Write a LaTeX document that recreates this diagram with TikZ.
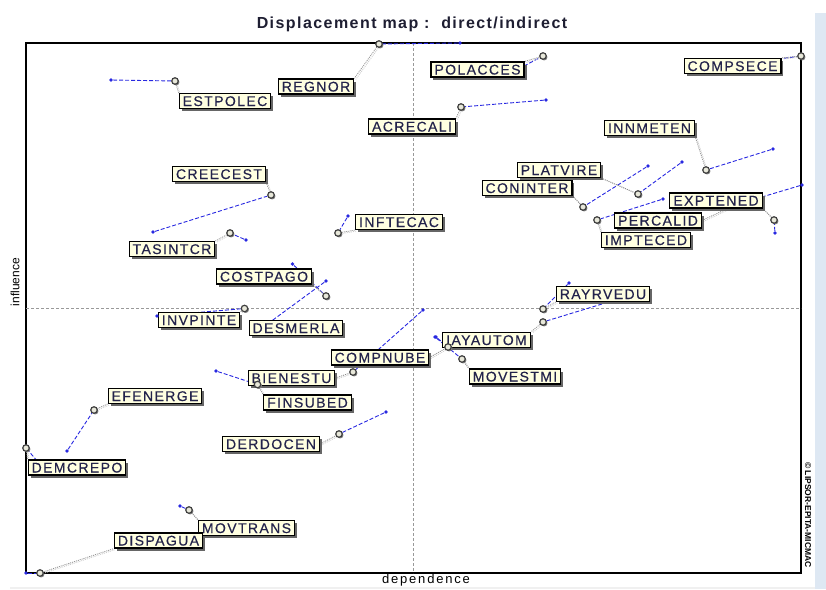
\documentclass[tikz,border=0pt]{standalone}
\usepackage{fontspec}
\setmainfont{Liberation Sans}
\newfontfamily\lblfont[LetterSpace=10,FakeBold=0.4]{Liberation Sans}
\newfontfamily\ttlfont[LetterSpace=9]{Liberation Sans}
\newfontfamily\axfont[LetterSpace=14]{Liberation Sans}
\usetikzlibrary{shadows}
\usetikzlibrary{backgrounds}

\definecolor{lblfill}{RGB}{255,255,225}
\definecolor{lbltext}{RGB}{35,35,75}
\definecolor{dirblue}{RGB}{40,40,225}
\definecolor{indfill}{RGB}{232,232,218}
\definecolor{sidebar}{RGB}{222,232,243}

\tikzset{
  lbl/.style={draw=black, line width=1.1pt, fill=lblfill, text=lbltext,
    font=\lblfont\fontsize{14}{14}\selectfont, inner xsep=3.5pt, inner ysep=2.5pt,
    text height=10pt, text depth=0pt,
    drop shadow={shadow xshift=2.5pt, shadow yshift=-2.5pt, fill=black!60, opacity=1}},
  ind/.style={circle, draw=black!75, line width=1.2pt, fill=indfill, inner sep=0pt,
    minimum size=6.5pt,
    drop shadow={shadow xshift=1.2pt, shadow yshift=-1.2pt, fill=gray, opacity=1}},
  dir/.style={circle, fill=dirblue, inner sep=0pt, minimum size=3.8pt},
  move/.style={draw=dirblue, line width=0.9pt, dash pattern=on 4pt off 2pt},
  leader/.style={draw=gray!90, line width=0.8pt, dash pattern=on 1pt off 1pt,
    preaction={draw=gray!40, line width=0.8pt, dash pattern=on 1pt off 1pt,
      transform canvas={shift={(1.5pt,-1pt)}}}},
  frame/.style={draw=black, line width=1.2pt},
  cross/.style={draw=gray!80, line width=0.7pt, dash pattern=on 3pt off 2pt}
}

\begin{document}
\begin{tikzpicture}[x=1pt, y=-1pt]
    %% define frame
    \def\xmin{26};
    \def\xmax{801};
    \def\ymin{43};
    \def\ymax{573};
    \def\xmid{413};
    \def\ymid{308};

    \useasboundingbox (0,0) rectangle (826,589);
    \fill[sidebar] (815,13) rectangle (826,589);
    \fill[gray!12] (10,587) rectangle (815,589);

    %% titles
    \node[anchor=base, text={rgb,255:red,30;green,30;blue,50},
      font=\ttlfont\bfseries\fontsize{16}{16}\selectfont] (title) at (412,28.5)
      {Displacement map :\ \ direct/indirect};
    \node[rotate=90, font=\fontsize{12}{12}\selectfont] (yname) at (15,282) {influence};
    \node[font=\axfont\fontsize{13}{13}\selectfont] (xname) at (426,580) {dependence};
    \node[rotate=-90, font=\bfseries\fontsize{8.5}{8.5}\selectfont] (copy) at (808,515)
      {\textcopyright\ LIPSOR-EPITA-MICMAC};

    %% labels
    \node[lbl] (estpolec) at (225,101) {ESTPOLEC};
    \node[lbl] (regnor) at (316,86.5) {REGNOR};
    \node[lbl] (polacces) at (477.5,69.5) {POLACCES};
    \node[lbl] (compsece) at (732.5,66) {COMPSECE};
    \node[lbl] (acrecali) at (412,126.5) {ACRECALI};
    \node[lbl] (innmeten) at (649.5,128) {INNMETEN};
    \node[lbl] (platvire) at (559,170) {PLATVIRE};
    \node[lbl] (coninter) at (527,188) {CONINTER};
    \node[lbl] (exptened) at (716,200.5) {EXPTENED};
    \node[lbl] (percalid) at (658,220.5) {PERCALID};
    \node[lbl] (impteced) at (646,240) {IMPTECED};
    \node[lbl] (creecest) at (219,174) {CREECEST};
    \node[lbl] (tasintcr) at (172,249) {TASINTCR};
    \node[lbl] (inftecac) at (399,222) {INFTECAC};
    \node[lbl] (costpago) at (264,276.5) {COSTPAGO};
    \node[lbl] (invpinte) at (199,320) {INVPINTE};
    \node[lbl] (desmerla) at (296,328) {DESMERLA};
    \node[lbl] (compnube) at (380,357.5) {COMPNUBE};
    \node[lbl] (bienestu) at (291.5,378) {BIENESTU};
    \node[lbl] (finsubed) at (307.5,402.5) {FINSUBED};
    \node[lbl] (iayautom) at (486.5,340) {IAYAUTOM};
    \node[lbl] (rayrvedu) at (603,294) {RAYRVEDU};
    \node[lbl] (movestmi) at (515,376.5) {MOVESTMI};
    \node[lbl] (efenerge) at (155,396) {EFENERGE};
    \node[lbl] (demcrepo) at (77,467.5) {DEMCREPO};
    \node[lbl] (derdocen) at (271,444) {DERDOCEN};
    \node[lbl] (movtrans) at (246.5,528) {MOVTRANS};
    \node[lbl] (dispagua) at (158.5,540.5) {DISPAGUA};

    %% direct positions
    \node[dir] (estpolec-d) at (111,80) {};
    \node[dir] (regnor-d) at (460,43) {};
    \coordinate (polacces-d) at (524,66);
    \coordinate (compsece-d) at (772,60);
    \node[dir] (acrecali-d) at (546,100) {};
    \node[dir] (innmeten-d) at (773,149) {};
    \node[dir] (platvire-d) at (682,162) {};
    \node[dir] (coninter-d) at (648,166) {};
    \node[dir] (exptened-d) at (775,233) {};
    \node[dir] (percalid-d) at (802,185) {};
    \node[dir] (impteced-d) at (663,199) {};
    \node[dir] (creecest-d) at (153,232) {};
    \node[dir] (tasintcr-d) at (246,240) {};
    \node[dir] (inftecac-d) at (348,216) {};
    \node[dir] (costpago-d) at (292.5,264) {};
    \node[dir] (invpinte-d) at (157,316) {};
    \node[dir] (desmerla-d) at (326,281) {};
    \node[dir] (compnube-d) at (436,337) {};
    \node[dir] (bienestu-d) at (423,310) {};
    \node[dir] (finsubed-d) at (216,371) {};
    \coordinate (iayautom-d) at (625,297);
    \node[dir] (rayrvedu-d) at (569,283) {};
    \node[dir] (movestmi-d) at (435,337) {};
    \node[dir] (efenerge-d) at (67,451) {};
    \coordinate (demcrepo-d) at (45,470);
    \node[dir] (derdocen-d) at (386,412) {};
    \node[dir] (movtrans-d) at (180,506) {};
    \node[dir] (dispagua-d) at (26,573) {};

    %% indirect positions
    \node[ind] (estpolec-i) at (175,81) {};
    \node[ind] (regnor-i) at (379,44) {};
    \node[ind] (polacces-i) at (543,56) {};
    \node[ind] (compsece-i) at (801,56) {};
    \node[ind] (acrecali-i) at (461,107) {};
    \node[ind] (innmeten-i) at (706,170) {};
    \node[ind] (platvire-i) at (638,194) {};
    \node[ind] (coninter-i) at (583,207) {};
    \node[ind] (exptened-i) at (774,220) {};
    \coordinate (percalid-i) at (735,205);
    \node[ind] (impteced-i) at (597,220) {};
    \node[ind] (creecest-i) at (271,195) {};
    \node[ind] (tasintcr-i) at (230,233) {};
    \node[ind] (inftecac-i) at (338,233) {};
    \node[ind] (costpago-i) at (326,296) {};
    \node[ind] (invpinte-i) at (244.5,308.5) {};
    \coordinate (desmerla-i) at (262,328);
    \node[ind] (compnube-i) at (448,347) {};
    \node[ind] (bienestu-i) at (353,372) {};
    \node[ind] (finsubed-i) at (257.5,384.5) {};
    \node[ind] (iayautom-i) at (543,322) {};
    \node[ind] (rayrvedu-i) at (543,309) {};
    \node[ind] (movestmi-i) at (462,359) {};
    \node[ind] (efenerge-i) at (94,410) {};
    \node[ind] (demcrepo-i) at (26,448) {};
    \node[ind] (derdocen-i) at (339,434) {};
    \node[ind] (movtrans-i) at (189,510) {};
    \node[ind] (dispagua-i) at (40,573) {};

    \begin{scope}[on background layer]
    %% frame and quadrants
    \draw[frame] (\xmin,\ymin) rectangle (\xmax,\ymax);
    \draw[cross] (\xmid,\ymin) -- (\xmid,\ymax);
    \draw[cross] (\xmin,\ymid) -- (\xmax,\ymid);

    %% displacements
    \draw[move] (estpolec-d) -- (estpolec-i);
    \draw[move] (regnor-d) -- (regnor-i);
    \draw[move] (polacces-d) -- (polacces-i);
    \draw[move] (compsece-d) -- (compsece-i);
    \draw[move] (acrecali-d) -- (acrecali-i);
    \draw[move] (innmeten-d) -- (innmeten-i);
    \draw[move] (platvire-d) -- (platvire-i);
    \draw[move] (coninter-d) -- (coninter-i);
    \draw[move] (exptened-d) -- (exptened-i);
    \draw[move] (percalid-d) -- (percalid-i);
    \draw[move] (impteced-d) -- (impteced-i);
    \draw[move] (creecest-d) -- (creecest-i);
    \draw[move] (tasintcr-d) -- (tasintcr-i);
    \draw[move] (inftecac-d) -- (inftecac-i);
    \draw[move] (costpago-d) -- (costpago-i);
    \draw[move] (invpinte-d) -- (invpinte-i);
    \draw[move] (desmerla-d) -- (desmerla-i);
    \draw[move] (compnube-d) -- (compnube-i);
    \draw[move] (bienestu-d) -- (bienestu-i);
    \draw[move] (finsubed-d) -- (finsubed-i);
    \draw[move] (iayautom-d) -- (iayautom-i);
    \draw[move] (rayrvedu-d) -- (rayrvedu-i);
    \draw[move] (movestmi-d) -- (movestmi-i);
    \draw[move] (efenerge-d) -- (efenerge-i);
    \draw[move] (demcrepo-d) -- (demcrepo-i);
    \draw[move] (derdocen-d) -- (derdocen-i);
    \draw[move] (movtrans-d) -- (movtrans-i);
    \draw[move] (dispagua-d) -- (dispagua-i);

    %% leaders from circles to labels
    \draw[leader] (estpolec-i) -- (estpolec.north west);
    \draw[leader] (regnor-i) -- (regnor.north east);
    \draw[leader] (polacces-i) -- (polacces.north east);
    \draw[leader] (compsece-i) -- (compsece.north east);
    \draw[leader] (acrecali-i) -- (acrecali.north east);
    \draw[leader] (innmeten.south east) -- (innmeten-i);
    \draw[leader] (platvire.south east) -- (platvire-i);
    \draw[leader] (coninter.south east) -- (coninter-i);
    \draw[leader] (exptened.south east) -- (exptened-i);
    \draw[leader] (percalid.east) -- (percalid-i);
    \draw[leader] (impteced-i) -- (impteced.north west);
    \draw[leader] (creecest.south east) -- (creecest-i);
    \draw[leader] (tasintcr-i) -- (tasintcr.north east);
    \draw[leader] (inftecac-i) -- (inftecac.south west);
    \draw[leader] (costpago.south east) -- (costpago-i);
    \draw[leader] (invpinte-i) -- (invpinte.north east);
    \draw[leader] (compnube.east) -- (compnube-i);
    \draw[leader] (bienestu.east) -- (bienestu-i);
    \draw[leader] (finsubed-i) -- (finsubed.north west);
    \draw[leader] (iayautom-i) -- (iayautom.north east);
    \draw[leader] (rayrvedu-i) -- (rayrvedu.south west);
    \draw[leader] (movestmi-i) -- (movestmi.north west);
    \draw[leader] (efenerge-i) -- (efenerge.south west);
    \draw[leader] (demcrepo-i) -- (demcrepo.north west);
    \draw[leader] (derdocen.east) -- (derdocen-i);
    \draw[leader] (movtrans-i) -- (movtrans.north west);
    \draw[leader] (dispagua-i) -- (dispagua.south west);
    \end{scope}
\end{tikzpicture}
\end{document}
